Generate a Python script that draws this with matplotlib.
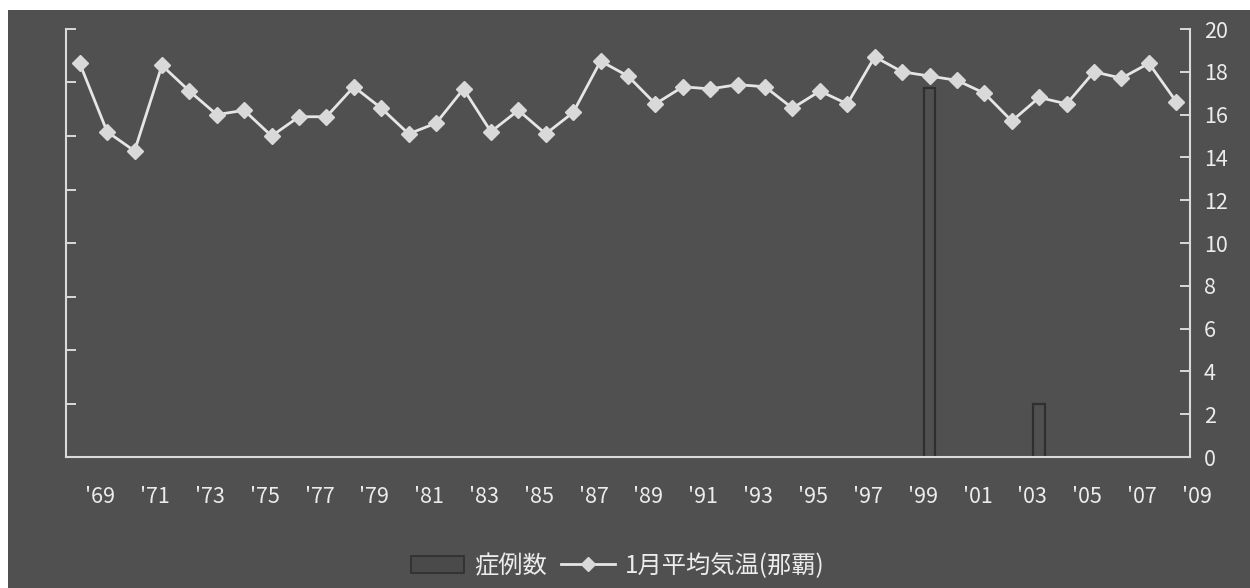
import numpy as np
import matplotlib
matplotlib.use("Agg")
import matplotlib.pyplot as plt
from matplotlib.lines import Line2D
from matplotlib.patches import Rectangle
from matplotlib.transforms import ScaledTranslation

plt.rcParams['font.family'] = ['Noto Sans CJK JP', 'DejaVu Sans']

# January mean temperature at Naha and case counts, 1968-2008
years = list(range(1968, 2009))
temps = [18.4, 15.2, 14.3, 18.3, 17.1, 16.0, 16.2, 15.0, 15.9, 15.9,
         17.3, 16.3, 15.1, 15.6, 17.2, 15.2, 16.2, 15.1, 16.1, 18.5,
         17.8, 16.5, 17.3, 17.2, 17.4, 17.3, 16.3, 17.1, 16.5, 18.7,
         18.0, 17.8, 17.6, 17.0, 15.7, 16.8, 16.5, 18.0, 17.7, 18.4,
         16.6]
case_years = [1999, 2003]
cases = [69, 10]
tick_years = list(range(1969, 2010, 2))
tick_labels = ["'%02d" % (y % 100) for y in tick_years]

bg = '#505050'
fg = '#ececec'
axcol = '#dadada'

fig = plt.figure(figsize=(12.5, 5.88), dpi=100, facecolor='white')
fig.patches.append(Rectangle((8 / 1250, 0), 1, 1 - 10 / 588, transform=fig.transFigure,
                             facecolor=bg, edgecolor='none', zorder=-10))

ax = fig.add_axes([66 / 1250, 1 - 457 / 588, (1190 - 66) / 1250, (457 - 29) / 588])
ax.set_facecolor('none')
x = np.arange(len(years))

# case counts (left axis, unlabeled)
bx = [years.index(y) for y in case_years]
ax.bar(bx, cases, width=0.42, facecolor='none', edgecolor='#2f2f2f', linewidth=1.6)
ax.set_ylim(0, 80)
ax.set_yticks(np.arange(0, 81, 10))
ax.tick_params(axis='y', direction='in', length=7, width=1.4, color=axcol, labelleft=False)
ax.set_xticks([])

# year labels sit a little left of the category centres; '09 hangs past the last slot
shift = ScaledTranslation(-7 / 100, -40 / 100, fig.dpi_scale_trans)
for yr, lab in zip(tick_years, tick_labels):
    ax.text(yr - years[0], 0, lab, transform=ax.get_xaxis_transform() + shift,
            ha='center', va='center', fontsize=15.5, color=fg, clip_on=False)

for s in ['top', 'right']:
    ax.spines[s].set_visible(False)
for s in ['left', 'bottom']:
    ax.spines[s].set_color(axcol)
    ax.spines[s].set_linewidth(1.5)

# temperature line (right axis)
ax2 = ax.twinx()
ax2.set_facecolor('none')
ax2.plot(x, temps, color='#e6e6e6', linewidth=2, marker='D', markersize=8.5,
         markerfacecolor='#d9d9d9', markeredgecolor='#d9d9d9', zorder=3)
ax2.set_ylim(0, 20)
ax2.set_yticks(np.arange(0, 21, 2))
ax2.tick_params(axis='y', direction='in', length=7, width=1.4, color=axcol,
                pad=10, labelsize=15.5, labelcolor=fg)
for s in ['top', 'left', 'bottom']:
    ax2.spines[s].set_visible(False)
ax2.spines['right'].set_color(axcol)
ax2.spines['right'].set_linewidth(1.5)

# shared category axis: one slot per year
ax.set_xlim(-0.5, len(years) - 0.5)

handles = [
    Rectangle((0, 0), 1, 1, facecolor='#4a4a4a', edgecolor='#2f2f2f', linewidth=1.2),
    Line2D([], [], color='#e6e6e6', linewidth=2, marker='D', markersize=7,
           markerfacecolor='#d9d9d9', markeredgecolor='#d9d9d9'),
]
fig.legend(handles, ['症例数', '1月平均気温(那覇)'], loc='center', bbox_to_anchor=(0.494, 1 - 566 / 588),
           ncol=2, frameon=False, fontsize=17.5, labelcolor=fg, handlelength=2.2,
           handletextpad=0.4, columnspacing=0.6)

fig.savefig('out.png', dpi=100, facecolor=fig.get_facecolor())
